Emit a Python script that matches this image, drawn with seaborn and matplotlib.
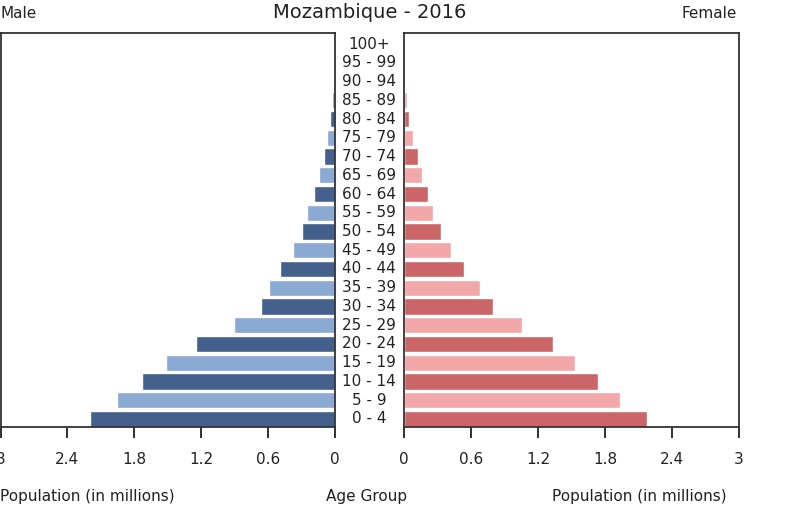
import matplotlib
matplotlib.use("Agg")
import matplotlib.pyplot as plt
import matplotlib.transforms as mtransforms
import seaborn as sns
import pandas as pd

sns.set_style("white")
plt.rcParams['font.family'] = ['DejaVu Sans']

age_groups = ["0 - 4", "5 - 9", "10 - 14", "15 - 19", "20 - 24", "25 - 29",
              "30 - 34", "35 - 39", "40 - 44", "45 - 49", "50 - 54", "55 - 59",
              "60 - 64", "65 - 69", "70 - 74", "75 - 79", "80 - 84", "85 - 89",
              "90 - 94", "95 - 99", "100+"]
male = [2.20, 1.95, 1.73, 1.51, 1.24, 0.905, 0.656, 0.59, 0.488, 0.374, 0.296,
        0.245, 0.186, 0.141, 0.096, 0.063, 0.039, 0.018, 0.007, 0.003, 0.001]
female = [2.18, 1.935, 1.734, 1.53, 1.33, 1.06, 0.80, 0.677, 0.54, 0.42, 0.33,
          0.26, 0.218, 0.162, 0.129, 0.081, 0.048, 0.024, 0.010, 0.004, 0.002]
x_ticks = [0, 0.6, 1.2, 1.8, 2.4, 3]
x_tick_labels = ["0", "0.6", "1.2", "1.8", "2.4", "3"]

male_colors = ["#43618c", "#8aa9d3"]
female_colors = ["#cc6567", "#f2a7a9"]

df = pd.DataFrame({"age": age_groups, "male": male, "female": female})
order = age_groups[::-1]
male_pal = {a: male_colors[i % 2] for i, a in enumerate(age_groups)}
female_pal = {a: female_colors[i % 2] for i, a in enumerate(age_groups)}

W, H = 791, 514
fig = plt.figure(figsize=(W / 100, H / 100), dpi=100)
bottom = 1 - 427 / H
height = (427 - 33) / H
axL = fig.add_axes([0.5 / W, bottom, 334 / W, height])
axR = fig.add_axes([404 / W, bottom, 335 / W, height])

text_color = "#222222"
spine_color = "#333333"

sns.barplot(data=df, x="male", y="age", hue="age", order=order, hue_order=order,
            palette=male_pal, legend=False, width=0.86, ax=axL, saturation=1)
sns.barplot(data=df, x="female", y="age", hue="age", order=order, hue_order=order,
            palette=female_pal, legend=False, width=0.86, ax=axR, saturation=1)

for ax in (axL, axR):
    ax.set_ylim(20.43, -0.59)
    ax.set_xticks(x_ticks)
    ax.set_xticklabels(x_tick_labels)
    ax.set_yticks([])
    ax.set_xlabel("")
    ax.set_ylabel("")
    ax.tick_params(axis="x", direction="out", length=8, width=1.3, pad=10,
                   labelsize=11, colors=text_color, bottom=True)
    for s in ax.spines.values():
        s.set_visible(True)
        s.set_color(spine_color)
        s.set_linewidth(1.3)

axL.set_xlim(3, 0)
axR.set_xlim(0, 3)

# central age-group labels
trans = mtransforms.blended_transform_factory(fig.transFigure, axL.transData)
for i, a in enumerate(order):
    fig.text(369 / W, i, a, transform=trans, ha="center", va="center",
             fontsize=11, color=text_color)

fig.text(370 / W, 1 - 13 / H, "Mozambique - 2016", ha="center", va="center",
         fontsize=14, color=text_color)
fig.text(0 / W, 1 - 14 / H, "Male", ha="left", va="center", fontsize=11,
         color=text_color)
fig.text(737 / W, 1 - 14 / H, "Female", ha="right", va="center", fontsize=11,
         color=text_color)
fig.text(0 / W, 1 - 496 / H, "Population (in millions)", ha="left", va="center",
         fontsize=11, color=text_color)
fig.text(727 / W, 1 - 496 / H, "Population (in millions)", ha="right", va="center",
         fontsize=11, color=text_color)
fig.text(367 / W, 1 - 496 / H, "Age Group", ha="center", va="center",
         fontsize=11, color=text_color)

fig.savefig("out.png", dpi=100)
